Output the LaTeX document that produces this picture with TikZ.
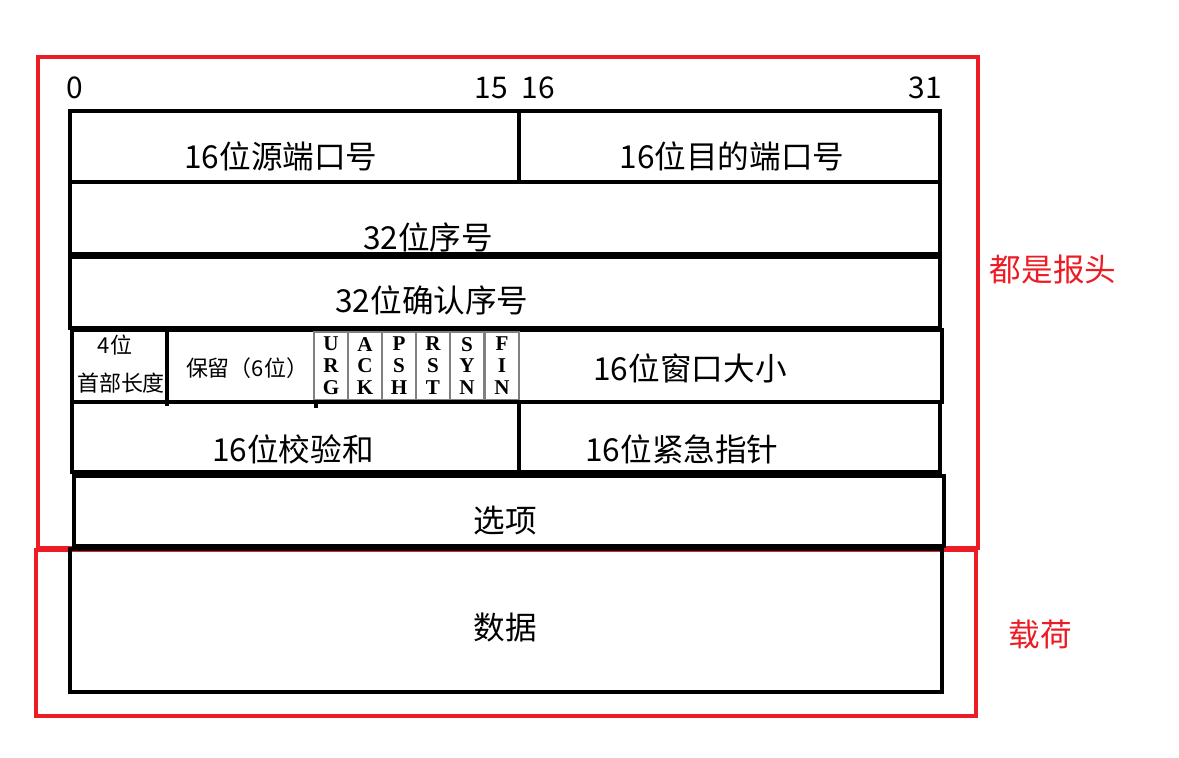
\documentclass[tikz,border=0pt]{standalone}
\usepackage{fontspec}
\setmainfont{Noto Sans CJK SC}
\newfontfamily\flagfont{Liberation Serif}
\definecolor{myred}{RGB}{237,28,36}
\begin{document}
\begin{tikzpicture}[x=0.02cm,y=-0.02cm,
  frame/.style={line width=2.8pt,draw=black},
  redbox/.style={line width=2.3pt,draw=myred},
  lbl/.style={inner sep=0pt,font=\fontsize{18}{21}\selectfont},
  small/.style={inner sep=0pt,font=\fontsize{12.5}{15}\selectfont},
  num/.style={inner sep=0pt,font=\fontsize{17}{20}\selectfont},
  redlbl/.style={inner sep=0pt,text=myred,font=\fontsize{18}{21}\selectfont},
  flagcell/.style={draw=gray,line width=0.6pt,minimum width=34*0.02cm,minimum height=68*0.02cm,inner sep=0pt,
    font=\flagfont\bfseries\fontsize{12}{12.5}\selectfont,align=center}]
\useasboundingbox (0,0) rectangle (1179,757);
% red boxes
\draw[redbox] (38,57) rectangle (978,548);
\draw[redbox] (36,550) rectangle (976,716);
\node[redlbl] (hdr) at (1053,270) {都是报头};
\node[redlbl] (pay) at (1040,634) {载荷};
% bit numbers
\node[num] (n0) at (75,88) {0};
\node[num] (n15) at (491,88) {15};
\node[num] (n16) at (538,88) {16};
\node[num] (n31) at (925,88) {31};
% row 1
\draw[frame] (70,111) rectangle (940,182);
\draw[frame] (519,111) -- (519,182);
\node[lbl] (src) at (281,156) {16位源端口号};
\node[lbl] (dst) at (732,156) {16位目的端口号};
% row 2
\draw[frame] (70,182) rectangle (940,254);
\node[lbl] (seq) at (428,237) {32位序号};
% row 3
\draw[frame] (70,257) rectangle (940,328);
\node[lbl] (ack) at (432,300) {32位确认序号};
% row 4
\draw[frame] (72,330) rectangle (942,402);
\draw[frame] (167,330) -- (167,406);
\draw[line width=2pt] (316,400) -- (316,408);
\node[small] (hl1) at (115,345) {4位};
\node[small] (hl2) at (121,383) {首部长度};
\node[small] (rsv) at (247,368) {保留（6位）};
\node[flagcell] (urg) at (331,366) {U\\R\\G};
\node[flagcell] (ackf) at (365,366) {A\\C\\K};
\node[flagcell] (psh) at (399,366) {P\\S\\H};
\node[flagcell] (rst) at (433,366) {R\\S\\T};
\node[flagcell] (syn) at (467,366) {S\\Y\\N};
\node[flagcell] (fin) at (502,366) {F\\I\\N};
\node[lbl] (win) at (690,368) {16位窗口大小};
% row 5
\draw[frame] (72,402) rectangle (940,472);
\draw[frame] (519,402) -- (519,472);
\node[lbl] (chk) at (293,449) {16位校验和};
\node[lbl] (urgp) at (682,449) {16位紧急指针};
% row 6
\draw[frame] (74,476) rectangle (944,546);
\node[lbl] (opt) at (505,521) {选项};
% row 7
\draw[frame] (70,549) rectangle (942,692);
\node[lbl] (data) at (505,628) {数据};
\end{tikzpicture}
\end{document}
